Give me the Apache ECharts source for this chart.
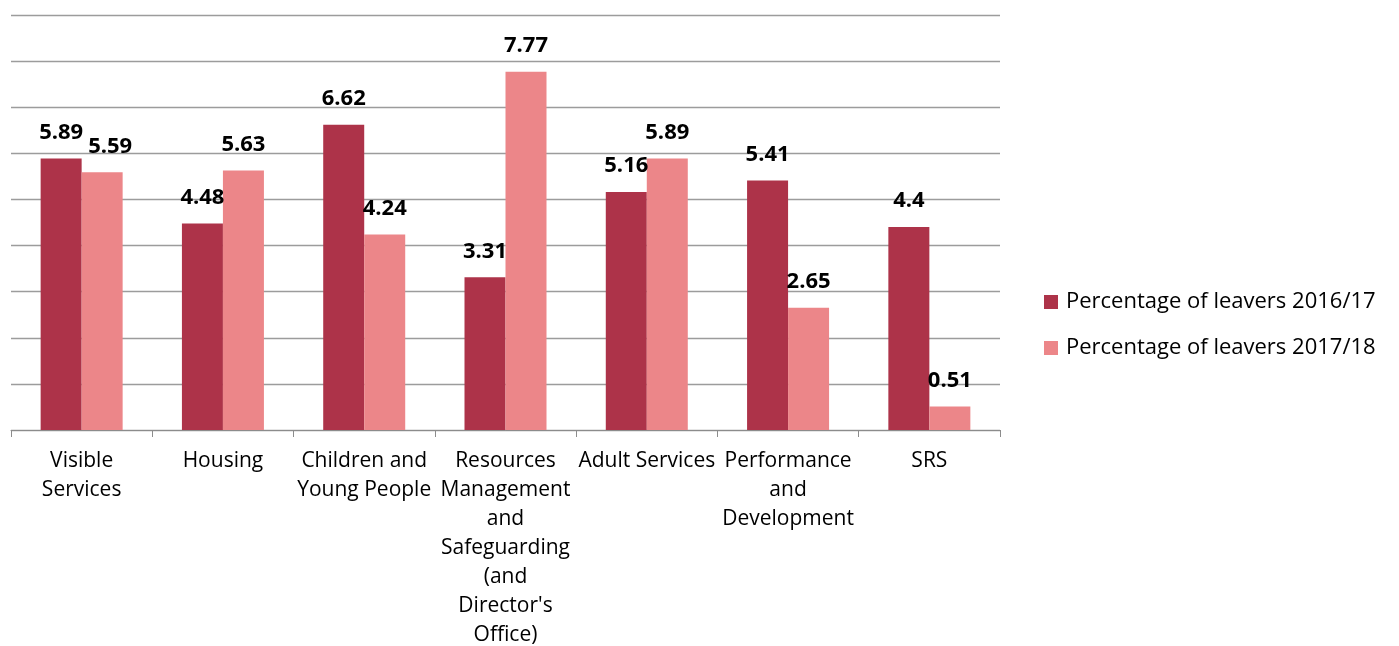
<!DOCTYPE html>
<html>
<head>
<meta charset="utf-8">
<style>
  html, body { margin: 0; padding: 0; background: #fff; }
  #chart { width: 1399px; height: 646px; }
</style>
<script src="https://cdn.jsdelivr.net/npm/echarts@6/dist/echarts.min.js"></script>
</head>
<body>
<div id="chart"></div>
<script>
// Departments shown along the x axis
const categories = [
  'Visible Services',
  'Housing',
  'Children and Young People',
  "Resources Management and Safeguarding (and Director's Office)",
  'Adult Services',
  'Performance and Development',
  'SRS'
];

// Wrapped tick labels, one per department
const tickLabels = [
  'Visible\nServices',
  'Housing',
  'Children and\nYoung People',
  "Resources\nManagement\nand\nSafeguarding\n(and\nDirector's\nOffice)",
  'Adult Services',
  'Performance\nand\nDevelopment',
  'SRS'
];

const seriesNames = ['Percentage of leavers 2016/17', 'Percentage of leavers 2017/18'];
const leavers2016 = [5.89, 4.48, 6.62, 3.31, 5.16, 5.41, 4.4];
const leavers2017 = [5.59, 5.63, 4.24, 7.77, 5.89, 2.65, 0.51];

const FONT = '"Open Sans", "Noto Sans", sans-serif';

const chart = echarts.init(document.getElementById('chart'), null, { renderer: 'canvas' });

const valueLabel = {
  show: true,
  position: 'top',
  distance: 15,
  color: '#000',
  fontFamily: FONT,
  fontWeight: 'bold',
  fontSize: 22
};

// The 2017/18 label for the first department is nudged right so it clears its neighbour
const data2017 = leavers2017.map((v, i) =>
  i === 0 ? { value: v, label: { offset: [8, 0] } } : v
);

chart.setOption({
  animation: false,
  backgroundColor: '#ffffff',
  grid: {
    left: 11, right: 399, top: 15, bottom: 216,
    containLabel: false,
    outerBoundsMode: 'none'
  },
  legend: {
    orient: 'vertical',
    left: 1044,
    top: 290,
    padding: 0,
    itemWidth: 14,
    itemHeight: 14,
    itemGap: 22,
    icon: 'rect',
    textStyle: { fontFamily: FONT, fontSize: 22, lineHeight: 24, color: '#000', padding: [0, 0, 0, 3] },
    data: seriesNames
  },
  xAxis: {
    type: 'category',
    data: categories,
    axisLine: { lineStyle: { color: '#8c8c8c', width: 1 } },
    axisTick: { show: true, alignWithLabel: false, length: 7, lineStyle: { color: '#8c8c8c' } },
    axisLabel: {
      interval: 0,
      margin: 17,
      color: '#000',
      fontFamily: FONT,
      fontSize: 21,
      lineHeight: 29,
      align: 'center',
      formatter: (val, idx) => tickLabels[idx]
    }
  },
  yAxis: {
    type: 'value',
    min: 0,
    max: 9,
    interval: 1,
    axisLine: { show: false },
    axisTick: { show: false },
    axisLabel: { show: false },
    splitLine: { lineStyle: { color: '#9c9c9c', width: 1.3 } }
  },
  series: [
    {
      name: seriesNames[0],
      type: 'bar',
      data: leavers2016,
      barWidth: 41,
      barGap: '0%',
      itemStyle: { color: '#AD3349' },
      label: valueLabel
    },
    {
      name: seriesNames[1],
      type: 'bar',
      data: data2017,
      barWidth: 41,
      itemStyle: { color: '#EC8689' },
      label: valueLabel
    }
  ]
});
</script>
</body>
</html>
